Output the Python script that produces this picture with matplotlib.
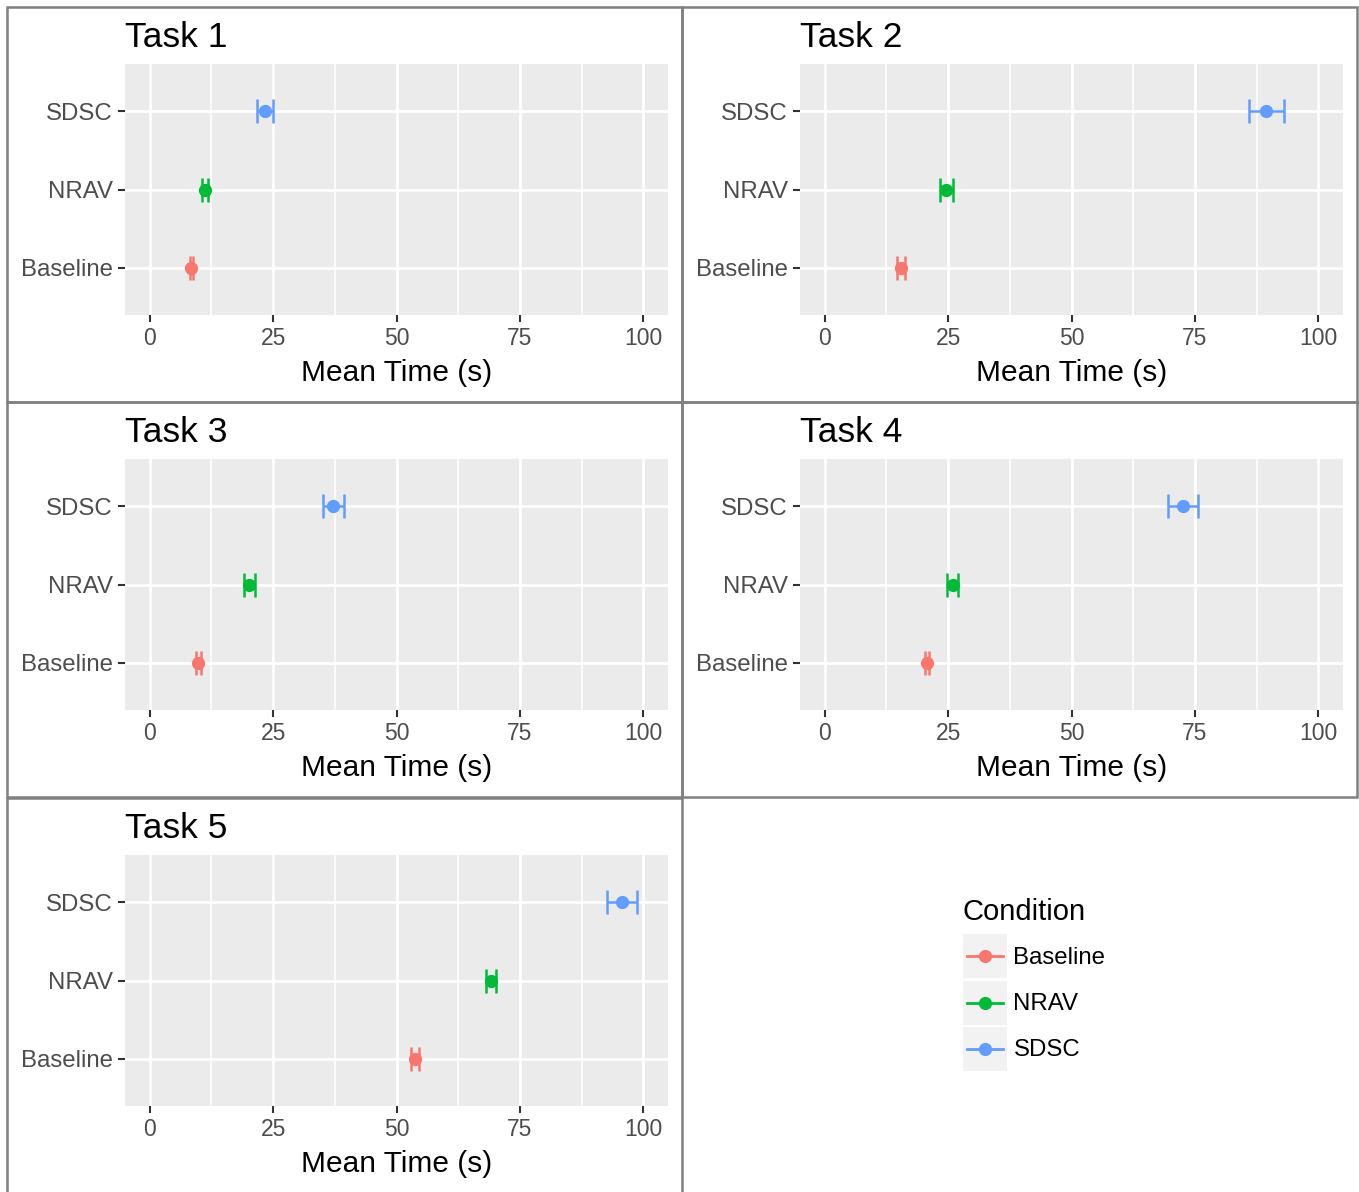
#!/usr/bin/env python3
"""Mean completion time per condition, one panel per task (ggplot-like look)."""

import matplotlib
matplotlib.use("Agg")
import matplotlib.pyplot as plt
from matplotlib.legend_handler import HandlerBase
from matplotlib.lines import Line2D
from matplotlib.patches import Rectangle

plt.rcParams["font.family"] = ["Liberation Sans", "DejaVu Sans"]

TASKS = ["Task 1", "Task 2", "Task 3", "Task 4", "Task 5"]
CONDITIONS = ["Baseline", "NRAV", "SDSC"]
COLORS = ["#F8766D", "#00BA38", "#619CFF"]

# mean time (s) and half-width of the error bar, per task
BASELINE_MEAN = [8.4, 15.5, 9.8, 20.7, 53.8]
BASELINE_ERR = [0.3, 0.8, 0.5, 0.4, 0.8]
NRAV_MEAN = [11.2, 24.6, 20.2, 25.9, 69.1]
NRAV_ERR = [0.65, 1.3, 1.15, 1.05, 1.0]
SDSC_MEAN = [23.3, 89.5, 37.2, 72.6, 95.6]
SDSC_ERR = [1.6, 3.5, 2.1, 3.05, 3.05]

X_TICKS = [0, 25, 50, 75, 100]
X_MINOR = [12.5, 37.5, 62.5, 87.5]
X_LABEL = "Mean Time (s)"

W, H = 1359, 1192
GRAY_BG = "#EBEBEB"
TICK_TEXT = "#4D4D4D"
TICK_MARK = "#333333"
BORDER = "#808080"


def px_rect(left, top, width, height):
    return [left / W, 1 - (top + height) / H, width / W, height / H]


class KeyHandler(HandlerBase):
    """ggplot style legend key: grey square, line with a point on it."""

    def create_artists(self, legend, orig, xdescent, ydescent, width, height, fontsize, trans):
        bg = Rectangle((-xdescent, -ydescent), width, height, facecolor="#F2F2F2",
                       edgecolor="none", transform=trans)
        y = -ydescent + height / 2
        line = Line2D([-xdescent + 0.08 * width, -xdescent + 0.92 * width], [y, y],
                      color=orig.get_color(), lw=2, transform=trans)
        pt = Line2D([-xdescent + width / 2], [y], marker="o", ms=8.5, ls="none",
                    color=orig.get_color(), transform=trans)
        return [bg, line, pt]


def plot_task(ax, i):
    means = [BASELINE_MEAN[i], NRAV_MEAN[i], SDSC_MEAN[i]]
    errs = [BASELINE_ERR[i], NRAV_ERR[i], SDSC_ERR[i]]

    ax.set_facecolor(GRAY_BG)
    ax.set_xlim(-5, 105)
    ax.set_ylim(-0.6, 2.6)

    for x in X_MINOR:
        ax.axvline(x, color="white", lw=1.1, zorder=0)
    for x in X_TICKS:
        ax.axvline(x, color="white", lw=2.0, zorder=0)
    for y in range(len(CONDITIONS)):
        ax.axhline(y, color="white", lw=2.0, zorder=0)

    for y, (m, e, c) in enumerate(zip(means, errs, COLORS)):
        ax.errorbar([m], [y], xerr=[e], fmt="o", color=c, ms=8.5, elinewidth=1.8,
                    capsize=8.3, capthick=1.8, zorder=3)

    ax.set_xticks(X_TICKS)
    ax.set_xticklabels([str(t) for t in X_TICKS])
    ax.set_yticks(range(len(CONDITIONS)))
    ax.set_yticklabels(CONDITIONS)
    ax.tick_params(axis="both", length=4.8, width=1.5, color=TICK_MARK,
                   labelcolor=TICK_TEXT, labelsize=16.5)
    ax.tick_params(axis="y", pad=4, labelsize=17.3)
    ax.tick_params(axis="x", pad=4)
    for s in ax.spines.values():
        s.set_visible(False)

    ax.set_xlabel(X_LABEL, fontsize=21.5, labelpad=6)
    ax.set_title(TASKS[i], loc="left", fontsize=25.5, pad=12)


def main():
    fig = plt.figure(figsize=(W / 100, H / 100), dpi=100)

    cell_x = [7, 682]
    cell_y = [7, 402, 798]
    cell_w, cell_h = 675, 395

    for i in range(len(TASKS)):
        r, c = divmod(i, 2)
        x0, y0 = cell_x[c], cell_y[r]
        fig.add_artist(Rectangle((x0 / W, 1 - (y0 + cell_h) / H), cell_w / W, cell_h / H,
                                 transform=fig.transFigure, facecolor="none",
                                 edgecolor=BORDER, lw=1.8, zorder=10))
        ax = fig.add_axes(px_rect(x0 + 118, y0 + 57, 543, 251))
        plot_task(ax, i)

    handles = [Line2D([], [], color=c) for c in COLORS]
    leg = fig.legend(handles, CONDITIONS, title="Condition", loc="upper left",
                     bbox_to_anchor=(963 / W, 1 - 898 / H), frameon=False,
                     fontsize=17.3, title_fontsize=21, alignment="left",
                     handlelength=1.83, handleheight=2.45, labelspacing=0.085,
                     handletextpad=0.27, borderpad=0, borderaxespad=0,
                     handler_map={Line2D: KeyHandler()})
    # a bit more room between the legend title and the keys, like ggplot
    leg._legend_box.sep = 6

    fig.savefig("out.png", dpi=100)


if __name__ == "__main__":
    main()
